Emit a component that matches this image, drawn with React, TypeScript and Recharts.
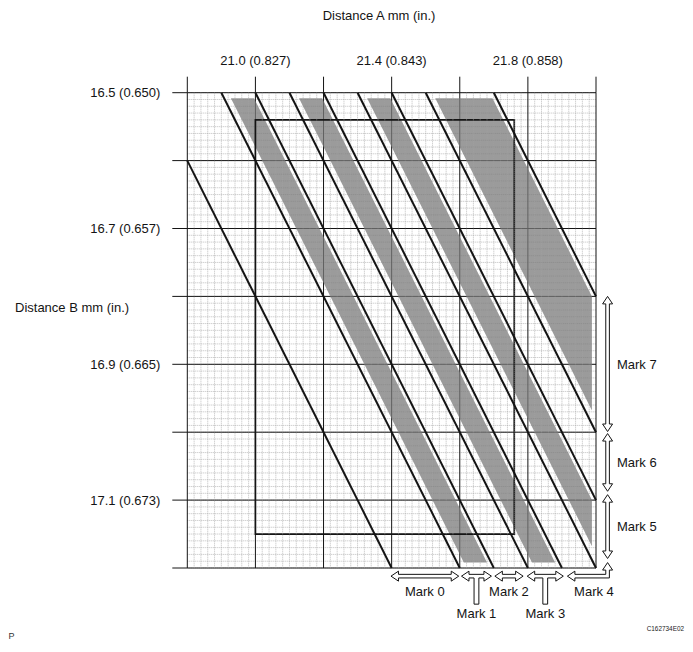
import React from "react";
import {
  ComposedChart,
  XAxis,
  YAxis,
  CartesianGrid,
  Area,
  ReferenceLine,
  ReferenceArea,
} from "recharts";

const FONT = "'Liberation Sans', Arial, Helvetica, sans-serif";
const INK = "#141414";
const MINOR = "#a2a2a2";

// ---- Distance A (mm), horizontal axis ----
const aMajorTicks = [20.8, 21.0, 21.2, 21.4, 21.6, 21.8, 22.0];
const aLabelValues = [21.0, 21.4, 21.8];
const aLabelTexts = ["21.0 (0.827)", "21.4 (0.843)", "21.8 (0.858)"];

// ---- Distance B (mm), vertical axis ----
const bMajorTicks = [16.5, 16.6, 16.7, 16.8, 16.9, 17.0, 17.1, 17.2];
const bLabelValues = [16.5, 16.7, 16.9, 17.1];
const bLabelTexts = ["16.5 (0.650)", "16.7 (0.657)", "16.9 (0.665)", "17.1 (0.673)"];

// fine graph-paper grid: 10 divisions per major cell
const aMinorTicks = Array.from({ length: 61 }, (_, i) => Math.round((20.8 + i * 0.02) * 1000) / 1000);
const bMinorTicks = Array.from({ length: 71 }, (_, i) => Math.round((16.5 + i * 0.01) * 1000) / 1000);

// ---- selection boundary lines (A, B endpoints) ----
const selectionLines = [
  { a1: 20.8, b1: 16.6, a2: 21.4, b2: 17.2 },
  { a1: 20.9, b1: 16.5, a2: 21.6, b2: 17.2 },
  { a1: 21.0, b1: 16.5, a2: 21.7, b2: 17.2 },
  { a1: 21.1, b1: 16.5, a2: 21.8, b2: 17.2 },
  { a1: 21.2, b1: 16.5, a2: 21.9, b2: 17.2 },
  { a1: 21.3, b1: 16.5, a2: 22.0, b2: 17.2 },
  { a1: 21.4, b1: 16.5, a2: 22.0, b2: 17.1 },
  { a1: 21.5, b1: 16.5, a2: 22.0, b2: 17.0 },
  { a1: 21.7, b1: 16.5, a2: 22.0, b2: 16.8 },
];

// ---- shaded bands (A, [B top, B bottom]) ----
const bandMark1 = [
  { a: 20.928, b: [16.508, 16.508] },
  { a: 20.996, b: [16.508, 16.576] },
  { a: 21.612, b: [17.124, 17.192] },
  { a: 21.68, b: [17.192, 17.192] },
];
const bandMark3 = [
  { a: 21.128, b: [16.508, 16.508] },
  { a: 21.196, b: [16.508, 16.576] },
  { a: 21.812, b: [17.124, 17.192] },
  { a: 21.88, b: [17.192, 17.192] },
];
const bandMark5 = [
  { a: 21.328, b: [16.508, 16.508] },
  { a: 21.396, b: [16.508, 16.576] },
  { a: 21.988, b: [17.1, 17.168] },
];
const bandMark7 = [
  { a: 21.528, b: [16.508, 16.508] },
  { a: 21.696, b: [16.508, 16.676] },
  { a: 21.988, b: [16.8, 16.968] },
];
const bands = [bandMark1, bandMark3, bandMark5, bandMark7];

// ---- measurement window ----
const windowA = [21.0, 21.76];
const windowB = [16.54, 17.15];

// ---- mark range arrows ----
const bottomMarks = [
  { name: "Mark 0", from: 21.398, to: 21.597, stem: false },
  { name: "Mark 1", from: 21.605, to: 21.693, stem: true },
  { name: "Mark 2", from: 21.703, to: 21.786, stem: false },
  { name: "Mark 3", from: 21.798, to: 21.904, stem: true },
];
const bottomArrowB = 17.212;
const mark4 = { name: "Mark 4", fromA: 21.916, cornerA: 22.034, toB: 17.192 };
const sideMarks = [
  { name: "Mark 7", from: 16.8, to: 16.999 },
  { name: "Mark 6", from: 17.002, to: 17.087 },
  { name: "Mark 5", from: 17.092, to: 17.186 },
];
const sideArrowA = 22.034;

const near = (a: number, b: number) => Math.abs(a - b) < 1e-6;
const fmtA = (v: number) => {
  const i = aLabelValues.findIndex((t) => near(t, v));
  return i >= 0 ? aLabelTexts[i] : "";
};
const fmtB = (v: number) => {
  const i = bLabelValues.findIndex((t) => near(t, v));
  return i >= 0 ? bLabelTexts[i] : "";
};
const aMinorOnly = aMinorTicks.filter((v) => !aMajorTicks.some((t) => near(t, v)));

const HL = 7.5;
const HW = 5;
const SW = 1.8;
const STEM_W = 2.4;
const STEM_LEN = 28;

const pts = (list: number[][]) => list.map((p) => `${p[0].toFixed(2)},${p[1].toFixed(2)}`).join(" ");
const labelStyle = { fontFamily: FONT, fontSize: 13, fill: INK };

function BottomArrow(props: any) {
  const { x1, x2, y1, label, stem } = props;
  const xa = Math.min(x1, x2);
  const xb = Math.max(x1, x2);
  const y = y1;
  const xc = (xa + xb) / 2;
  const poly = [
    [xa, y], [xa + HL, y - HW], [xa + HL, y - SW], [xb - HL, y - SW], [xb - HL, y - HW], [xb, y],
    [xb - HL, y + HW], [xb - HL, y + SW],
    ...(stem
      ? [[xc + STEM_W, y + SW], [xc + STEM_W, y + STEM_LEN], [xc - STEM_W, y + STEM_LEN], [xc - STEM_W, y + SW]]
      : []),
    [xa + HL, y + SW], [xa + HL, y + HW],
  ];
  const ly = stem ? y + STEM_LEN + 9 : y + 15.3;
  return (
    <g>
      <polygon points={pts(poly)} fill="#fff" stroke={INK} strokeWidth={1} />
      <text x={xc} y={ly} dy="0.35em" textAnchor="middle" {...labelStyle}>{label}</text>
    </g>
  );
}

function SideArrow(props: any) {
  const { x1, y1, y2, label } = props;
  const x = x1;
  const ya = Math.min(y1, y2);
  const yb = Math.max(y1, y2);
  const yc = (ya + yb) / 2;
  const poly = [
    [x, ya], [x + HW, ya + HL], [x + SW, ya + HL], [x + SW, yb - HL], [x + HW, yb - HL], [x, yb],
    [x - HW, yb - HL], [x - SW, yb - HL], [x - SW, ya + HL], [x - HW, ya + HL],
  ];
  return (
    <g>
      <polygon points={pts(poly)} fill="#fff" stroke={INK} strokeWidth={1} />
      <text x={x + 9.3} y={yc} dy="0.35em" textAnchor="start" {...labelStyle}>{label}</text>
    </g>
  );
}

function CornerArrow(props: any) {
  const { x1, y1, x2, y2, label } = props;
  const xa = x1;
  const y = y1;
  const xv = x2;
  const yt = y2;
  const poly = [
    [xa, y], [xa + HL, y - HW], [xa + HL, y - SW], [xv - SW, y - SW], [xv - SW, yt + HL], [xv - HW, yt + HL],
    [xv, yt], [xv + HW, yt + HL], [xv + SW, yt + HL], [xv + SW, y + SW], [xa + HL, y + SW], [xa + HL, y + HW],
  ];
  return (
    <g>
      <polygon points={pts(poly)} fill="#fff" stroke={INK} strokeWidth={1} />
      <text x={(xa + xv) / 2 + 6.5} y={y + 15.3} dy="0.35em" textAnchor="middle" {...labelStyle}>{label}</text>
    </g>
  );
}

function Titles() {
  return (
    <g>
      <text x={371} y={7} dy="0.35em" textAnchor="middle" {...labelStyle}>Distance A mm (in.)</text>
      <text x={7} y={299.3} dy="0.35em" textAnchor="start" {...labelStyle}>Distance B mm (in.)</text>
      <text x={0.5} y={628} dy="0.35em" textAnchor="start" fontFamily={FONT} fontSize={9} fill="#333">P</text>
      <text x={638.7} y={620.3} dy="0.35em" textAnchor="start" fontFamily={FONT} fontSize={6.4} fill="#222">C162734E02</text>
    </g>
  );
}

export default function App() {
  return (
    <ComposedChart
      width={677}
      height={636}
      margin={{ top: 34.7, right: 89, bottom: 76, left: 79.3 }}
      style={{ fontFamily: FONT }}
    >
      <YAxis yAxisId="minor" type="number" domain={[16.5, 17.2]} ticks={bMinorTicks} interval={0} reversed hide allowDataOverflow />
      <XAxis
        dataKey="a"
        type="number"
        orientation="top"
        height={50}
        domain={[20.8, 22]}
        ticks={aMajorTicks}
        interval={0}
        allowDataOverflow
        axisLine={false}
        tickSize={16}
        tickMargin={12}
        tickLine={{ stroke: INK, strokeWidth: 1 }}
        tick={{ fontSize: 13, fill: INK, fontFamily: FONT }}
        tickFormatter={fmtA}
      />
      <YAxis
        type="number"
        width={100}
        domain={[16.5, 17.2]}
        reversed
        ticks={bMajorTicks}
        interval={0}
        allowDataOverflow
        axisLine={false}
        tickSize={15}
        tickMargin={12}
        tickLine={{ stroke: INK, strokeWidth: 1 }}
        tick={{ fontSize: 13, fill: INK, fontFamily: FONT }}
        tickFormatter={fmtB}
      />
      <CartesianGrid yAxisId="minor" vertical={false} stroke={MINOR} strokeDasharray="1 1" strokeWidth={0.7} />
      {aMinorOnly.map((v) => (
        <ReferenceLine key={`vm-${v}`} x={v} stroke={MINOR} strokeDasharray="1 1" strokeWidth={0.7} />
      ))}
      <CartesianGrid stroke={INK} strokeWidth={1} />
      {bands.map((band, i) => (
        <Area
          key={`band-${i}`}
          data={band}
          dataKey="b"
          type="linear"
          stroke="none"
          fill="#7a7a7a"
          fillOpacity={0.75}
          dot={false}
          activeDot={false}
          isAnimationActive={false}
        />
      ))}
      <ReferenceArea
        x1={windowA[0]}
        x2={windowA[1]}
        y1={windowB[0]}
        y2={windowB[1]}
        fill="none"
        fillOpacity={0}
        stroke={INK}
        strokeWidth={1.7}
      />
      {selectionLines.map((l, i) => (
        <ReferenceLine
          key={`line-${i}`}
          segment={[{ x: l.a1, y: l.b1 }, { x: l.a2, y: l.b2 }]}
          stroke={INK}
          strokeWidth={2}
        />
      ))}
      {bottomMarks.map((m) => (
        <ReferenceLine
          key={m.name}
          segment={[{ x: m.from, y: bottomArrowB }, { x: m.to, y: bottomArrowB }]}
          ifOverflow="visible"
          shape={(p: any) => <BottomArrow {...p} label={m.name} stem={m.stem} />}
        />
      ))}
      <ReferenceLine
        segment={[{ x: mark4.fromA, y: bottomArrowB }, { x: mark4.cornerA, y: mark4.toB }]}
        ifOverflow="visible"
        shape={(p: any) => <CornerArrow {...p} label={mark4.name} />}
      />
      {sideMarks.map((m) => (
        <ReferenceLine
          key={m.name}
          segment={[{ x: sideArrowA, y: m.from }, { x: sideArrowA, y: m.to }]}
          ifOverflow="visible"
          shape={(p: any) => <SideArrow {...p} label={m.name} />}
        />
      ))}
      <Titles />
    </ComposedChart>
  );
}
